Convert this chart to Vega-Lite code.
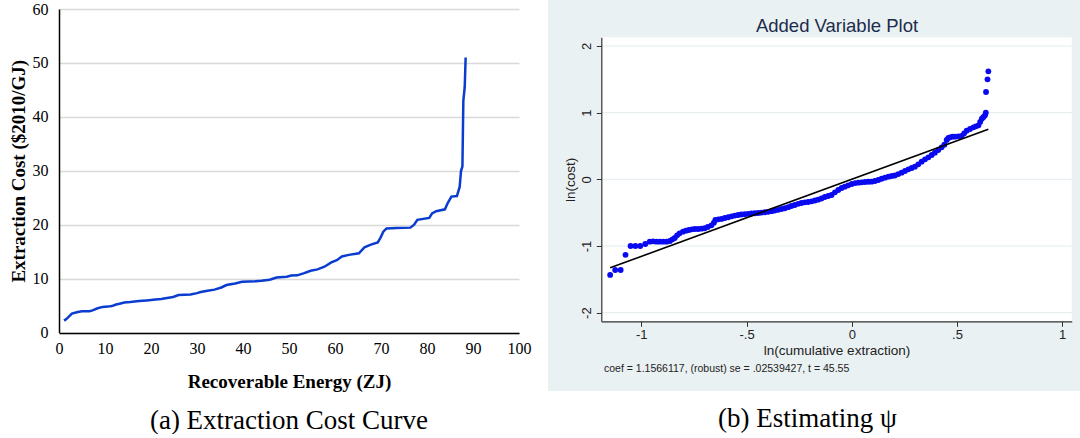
{
  "$schema": "https://vega.github.io/schema/vega-lite/v6.json",
  "background": "white",
  "padding": {"left": 9, "top": 0, "right": 0, "bottom": 0},
  "spacing": 17,
  "config": {"view": {"stroke": null}},
  "datasets": {
    "curve": [
      {"energy": 1.1, "cost": 2.2}, {"energy": 1.6, "cost": 2.5}, {"energy": 2.8, "cost": 3.5}, {"energy": 4.1, "cost": 3.8},
      {"energy": 5.0, "cost": 3.95}, {"energy": 6.6, "cost": 3.96}, {"energy": 7.3, "cost": 4.1}, {"energy": 8.4, "cost": 4.5},
      {"energy": 9.5, "cost": 4.75}, {"energy": 10.6, "cost": 4.8}, {"energy": 11.5, "cost": 4.9}, {"energy": 12.4, "cost": 5.2},
      {"energy": 13.2, "cost": 5.35}, {"energy": 14.2, "cost": 5.55}, {"energy": 15.5, "cost": 5.65}, {"energy": 17.4, "cost": 5.85},
      {"energy": 19.0, "cost": 5.95}, {"energy": 21.0, "cost": 6.1}, {"energy": 22.2, "cost": 6.2}, {"energy": 23.5, "cost": 6.4},
      {"energy": 24.8, "cost": 6.6}, {"energy": 26.0, "cost": 6.95}, {"energy": 28.6, "cost": 7.05}, {"energy": 30.0, "cost": 7.3},
      {"energy": 30.8, "cost": 7.5}, {"energy": 32.3, "cost": 7.75}, {"energy": 33.8, "cost": 7.95}, {"energy": 35.3, "cost": 8.35},
      {"energy": 36.4, "cost": 8.8}, {"energy": 38.3, "cost": 9.1}, {"energy": 39.8, "cost": 9.4}, {"energy": 42.8, "cost": 9.5},
      {"energy": 44.0, "cost": 9.6}, {"energy": 45.8, "cost": 9.8}, {"energy": 47.3, "cost": 10.2}, {"energy": 49.5, "cost": 10.35},
      {"energy": 50.5, "cost": 10.55}, {"energy": 51.8, "cost": 10.6}, {"energy": 53.3, "cost": 11.0}, {"energy": 54.7, "cost": 11.45},
      {"energy": 56.2, "cost": 11.7}, {"energy": 57.7, "cost": 12.2}, {"energy": 59.2, "cost": 13.0}, {"energy": 60.4, "cost": 13.4},
      {"energy": 61.5, "cost": 14.1}, {"energy": 63.0, "cost": 14.4}, {"energy": 65.2, "cost": 14.7}, {"energy": 66.4, "cost": 15.8},
      {"energy": 67.8, "cost": 16.3}, {"energy": 69.3, "cost": 16.7}, {"energy": 69.9, "cost": 17.6}, {"energy": 70.5, "cost": 18.7},
      {"energy": 71.2, "cost": 19.3}, {"energy": 73.4, "cost": 19.4}, {"energy": 76.4, "cost": 19.45}, {"energy": 77.2, "cost": 20.0},
      {"energy": 77.9, "cost": 20.9}, {"energy": 80.5, "cost": 21.25}, {"energy": 81.1, "cost": 22.1}, {"energy": 82.0, "cost": 22.5},
      {"energy": 83.9, "cost": 22.85}, {"energy": 84.5, "cost": 24.0}, {"energy": 85.3, "cost": 25.2}, {"energy": 86.5, "cost": 25.3},
      {"energy": 87.1, "cost": 27.0}, {"energy": 87.4, "cost": 30.0}, {"energy": 87.7, "cost": 30.8}, {"energy": 87.9, "cost": 43.0},
      {"energy": 88.2, "cost": 45.5}, {"energy": 88.4, "cost": 51.0}
    ],
    "av": [
      {"x": -1.148, "y": -1.434}, {"x": -1.124, "y": -1.36}, {"x": -1.098, "y": -1.36}, {"x": -1.075, "y": -1.133},
      {"x": -1.051, "y": -1.0}, {"x": -1.028, "y": -1.0}, {"x": -1.005, "y": -1.0}, {"x": -0.981, "y": -0.97},
      {"x": -0.96, "y": -0.935}, {"x": -0.944, "y": -0.93}, {"x": -0.928, "y": -0.935}, {"x": -0.912, "y": -0.935},
      {"x": -0.896, "y": -0.935}, {"x": -0.88, "y": -0.935}, {"x": -0.864, "y": -0.925}, {"x": -0.852, "y": -0.9},
      {"x": -0.841, "y": -0.88}, {"x": -0.83, "y": -0.84}, {"x": -0.818, "y": -0.81}, {"x": -0.802, "y": -0.785},
      {"x": -0.788, "y": -0.77}, {"x": -0.774, "y": -0.76}, {"x": -0.76, "y": -0.75}, {"x": -0.746, "y": -0.745},
      {"x": -0.73, "y": -0.745}, {"x": -0.714, "y": -0.74}, {"x": -0.699, "y": -0.734}, {"x": -0.684, "y": -0.715},
      {"x": -0.667, "y": -0.69}, {"x": -0.655, "y": -0.65}, {"x": -0.648, "y": -0.61}, {"x": -0.634, "y": -0.6},
      {"x": -0.619, "y": -0.594}, {"x": -0.603, "y": -0.58}, {"x": -0.587, "y": -0.569}, {"x": -0.571, "y": -0.556},
      {"x": -0.556, "y": -0.544}, {"x": -0.54, "y": -0.535}, {"x": -0.525, "y": -0.528}, {"x": -0.509, "y": -0.524},
      {"x": -0.493, "y": -0.518}, {"x": -0.477, "y": -0.513}, {"x": -0.461, "y": -0.509}, {"x": -0.445, "y": -0.505},
      {"x": -0.429, "y": -0.5}, {"x": -0.413, "y": -0.494}, {"x": -0.397, "y": -0.488}, {"x": -0.381, "y": -0.478},
      {"x": -0.366, "y": -0.469}, {"x": -0.35, "y": -0.458}, {"x": -0.334, "y": -0.446}, {"x": -0.318, "y": -0.434},
      {"x": -0.302, "y": -0.418}, {"x": -0.287, "y": -0.4}, {"x": -0.271, "y": -0.385}, {"x": -0.255, "y": -0.368},
      {"x": -0.239, "y": -0.355}, {"x": -0.223, "y": -0.345}, {"x": -0.207, "y": -0.34}, {"x": -0.191, "y": -0.33},
      {"x": -0.175, "y": -0.318}, {"x": -0.16, "y": -0.305}, {"x": -0.144, "y": -0.288}, {"x": -0.128, "y": -0.265},
      {"x": -0.112, "y": -0.25}, {"x": -0.096, "y": -0.235}, {"x": -0.08, "y": -0.195}, {"x": -0.064, "y": -0.16},
      {"x": -0.048, "y": -0.13}, {"x": -0.033, "y": -0.11}, {"x": -0.017, "y": -0.09}, {"x": 0.0, "y": -0.07},
      {"x": 0.016, "y": -0.057}, {"x": 0.032, "y": -0.05}, {"x": 0.047, "y": -0.045}, {"x": 0.063, "y": -0.04},
      {"x": 0.079, "y": -0.037}, {"x": 0.094, "y": -0.035}, {"x": 0.11, "y": -0.025}, {"x": 0.126, "y": -0.01},
      {"x": 0.142, "y": 0.008}, {"x": 0.158, "y": 0.025}, {"x": 0.174, "y": 0.04}, {"x": 0.19, "y": 0.05},
      {"x": 0.205, "y": 0.057}, {"x": 0.221, "y": 0.078}, {"x": 0.237, "y": 0.1}, {"x": 0.253, "y": 0.125},
      {"x": 0.269, "y": 0.15}, {"x": 0.285, "y": 0.17}, {"x": 0.3, "y": 0.19}, {"x": 0.316, "y": 0.225},
      {"x": 0.332, "y": 0.265}, {"x": 0.348, "y": 0.3}, {"x": 0.364, "y": 0.33}, {"x": 0.38, "y": 0.365},
      {"x": 0.395, "y": 0.4}, {"x": 0.411, "y": 0.44}, {"x": 0.427, "y": 0.48}, {"x": 0.44, "y": 0.52},
      {"x": 0.451, "y": 0.59}, {"x": 0.459, "y": 0.62}, {"x": 0.467, "y": 0.63}, {"x": 0.478, "y": 0.64},
      {"x": 0.49, "y": 0.64}, {"x": 0.506, "y": 0.645}, {"x": 0.522, "y": 0.65}, {"x": 0.534, "y": 0.69},
      {"x": 0.546, "y": 0.73}, {"x": 0.562, "y": 0.755}, {"x": 0.578, "y": 0.78}, {"x": 0.59, "y": 0.795},
      {"x": 0.602, "y": 0.81}, {"x": 0.61, "y": 0.86}, {"x": 0.618, "y": 0.91}, {"x": 0.626, "y": 0.935},
      {"x": 0.633, "y": 0.96}, {"x": 0.637, "y": 1.0}, {"x": 0.638, "y": 1.31}, {"x": 0.645, "y": 1.5},
      {"x": 0.649, "y": 1.62}
    ],
    "fit": [
      {"x": -1.148, "fit": -1.3278},
      {"x": 0.649, "fit": 0.7506}
    ],
    "ygrid": [
      {"level": -2}, {"level": -1}, {"level": 0}, {"level": 1}, {"level": 2}
    ]
  },
  "hconcat": [
    {
      "width": 460,
      "height": 333,
      "data": {"name": "curve"},
      "title": {
        "text": "(a) Extraction Cost Curve",
        "orient": "bottom",
        "anchor": "middle",
        "baseline": "top",
        "offset": 17,
        "font": "Liberation Serif",
        "fontSize": 27,
        "fontWeight": "normal",
        "color": "black"
      },
      "mark": {"type": "line", "color": "#0a3ccf", "strokeWidth": 2.5},
      "encoding": {
        "x": {
          "field": "energy",
          "type": "quantitative",
          "scale": {"domain": [0, 100], "nice": false},
          "axis": {
            "values": [0, 10, 20, 30, 40, 50, 60, 70, 80, 90, 100],
            "title": "Recoverable Energy (ZJ)",
            "grid": false,
            "ticks": false,
            "labelFlush": false,
            "labelOverlap": false,
            "domainColor": "black",
            "domainWidth": 1.5,
            "labelFont": "Liberation Serif",
            "labelFontSize": 16,
            "labelColor": "black",
            "labelPadding": 7,
            "titleFont": "Liberation Serif",
            "titleFontSize": 19,
            "titleFontWeight": "bold",
            "titleColor": "black",
            "titlePadding": 16
          }
        },
        "y": {
          "field": "cost",
          "type": "quantitative",
          "scale": {"domain": [0, 60], "range": [332.5, 9], "nice": false},
          "axis": {
            "values": [0, 10, 20, 30, 40, 50, 60],
            "title": "Extraction Cost ($2010/GJ)",
            "grid": true,
            "gridColor": "#d9d9d9",
            "gridWidth": 1.5,
            "ticks": false,
            "domainColor": "black",
            "domainWidth": 1.5,
            "labelFont": "Liberation Serif",
            "labelFontSize": 16,
            "labelColor": "black",
            "labelPadding": 11,
            "titleFont": "Liberation Serif",
            "titleFontSize": 19,
            "titleFontWeight": "bold",
            "titleColor": "black",
            "titlePadding": 4
          }
        }
      }
    },
    {
      "title": {
        "text": "(b) Estimating ψ",
        "orient": "bottom",
        "anchor": "middle",
        "baseline": "top",
        "offset": 15,
        "dx": -7,
        "font": "Liberation Serif",
        "fontSize": 27,
        "fontWeight": "normal",
        "color": "black"
      },
      "vconcat": [
        {
          "title": {
            "text": "coef = 1.1566117, (robust) se = .02539427, t = 45.55",
            "orient": "bottom",
            "anchor": "start",
            "baseline": "middle",
            "offset": -22,
            "dx": 56,
            "font": "Liberation Sans",
            "fontSize": 10.5,
            "fontWeight": "normal",
            "color": "#222222"
          },
          "vconcat": [
            {
              "width": 533,
              "height": 391,
              "view": {"fill": "#eaf1f3", "stroke": null},
              "resolve": {"axis": {"x": "independent"}},
              "layer": [
                {
                  "data": {"values": [{}]},
                  "mark": {"type": "rect", "color": "white"},
                  "encoding": {
                    "x": {
                      "datum": -1.19,
                      "type": "quantitative",
                      "scale": {"domain": [-1.19, 1.045], "range": [53.3, 523.7], "nice": false, "zero": false},
                      "axis": {
                        "orient": "bottom",
                        "offset": -69.7,
                        "zindex": 1,
                        "values": [-1, -0.5, 0, 0.5, 1],
                        "labelExpr": "replace(toString(datum.value), '0.', '.')",
                        "title": "ln(cumulative extraction)",
                        "grid": false,
                        "labelFlush": false,
                        "labelOverlap": false,
                        "domainColor": "#333333",
                        "domainWidth": 1.2,
                        "tickColor": "#333333",
                        "tickSize": 5,
                        "labelPadding": 2,
                        "labelFont": "Liberation Sans",
                        "labelFontSize": 13,
                        "labelColor": "#222222",
                        "titleFont": "Liberation Sans",
                        "titleFontSize": 13.5,
                        "titleFontWeight": "normal",
                        "titleColor": "#222222",
                        "titlePadding": 2
                      }
                    },
                    "x2": {"datum": 1.045},
                    "y": {
                      "datum": -2.13,
                      "type": "quantitative",
                      "scale": {"domain": [-2.13, 2.13], "range": [321.3, 37.3], "nice": false, "zero": false},
                      "axis": {
                        "orient": "left",
                        "offset": -53.3,
                        "zindex": 1,
                        "values": [-2, -1, 0, 1, 2],
                        "labelExpr": "toString(datum.value)",
                        "title": "ln(cost)",
                        "grid": false,
                        "domainColor": "#333333",
                        "domainWidth": 1.2,
                        "tickColor": "#333333",
                        "tickSize": 5,
                        "labelAngle": -90,
                        "labelAlign": "center",
                        "labelBaseline": "bottom",
                        "labelPadding": 3,
                        "labelFont": "Liberation Sans",
                        "labelFontSize": 13,
                        "labelColor": "#222222",
                        "titleFont": "Liberation Sans",
                        "titleFontSize": 13.5,
                        "titleFontWeight": "normal",
                        "titleColor": "#222222",
                        "titlePadding": 3
                      }
                    },
                    "y2": {"datum": 2.13}
                  }
                },
                {
                  "data": {"name": "ygrid"},
                  "mark": {"type": "rule", "color": "#e4ecef", "strokeWidth": 1},
                  "encoding": {
                    "x": {"datum": -1.19, "type": "quantitative", "scale": {"domain": [-1.19, 1.045], "range": [53.3, 523.7], "nice": false, "zero": false}, "axis": null},
                    "x2": {"datum": 1.045},
                    "y": {"field": "level", "type": "quantitative", "scale": {"domain": [-2.13, 2.13], "range": [321.3, 37.3], "nice": false, "zero": false}}
                  }
                },
                {
                  "data": {"name": "av"},
                  "mark": {"type": "point", "filled": true, "shape": "circle", "size": 34, "color": "#0a0af0", "opacity": 1},
                  "encoding": {
                    "x": {
                      "field": "x",
                      "type": "quantitative",
                      "scale": {"domain": [-1.19, 1.045], "range": [53.3, 523.7], "nice": false, "zero": false},
                      "axis": {
                        "orient": "top",
                        "offset": -37.3,
                        "domain": false,
                        "ticks": false,
                        "labels": false,
                        "grid": false,
                        "title": "Added Variable Plot",
                        "titleFont": "Liberation Sans",
                        "titleFontSize": 18.5,
                        "titleFontWeight": "normal",
                        "titleColor": "#1c2c4c",
                        "titleBaseline": "alphabetic",
                        "titlePadding": 6
                      }
                    },
                    "y": {"field": "y", "type": "quantitative", "scale": {"domain": [-2.13, 2.13], "range": [321.3, 37.3], "nice": false, "zero": false}}
                  }
                },
                {
                  "data": {"name": "fit"},
                  "mark": {"type": "line", "color": "black", "strokeWidth": 1.6},
                  "encoding": {
                    "x": {"field": "x", "type": "quantitative", "scale": {"domain": [-1.19, 1.045], "range": [53.3, 523.7], "nice": false, "zero": false}, "axis": null},
                    "y": {"field": "fit", "type": "quantitative", "scale": {"domain": [-2.13, 2.13], "range": [321.3, 37.3], "nice": false, "zero": false}}
                  }
                }
              ]
            }
          ]
        }
      ]
    }
  ]
}
